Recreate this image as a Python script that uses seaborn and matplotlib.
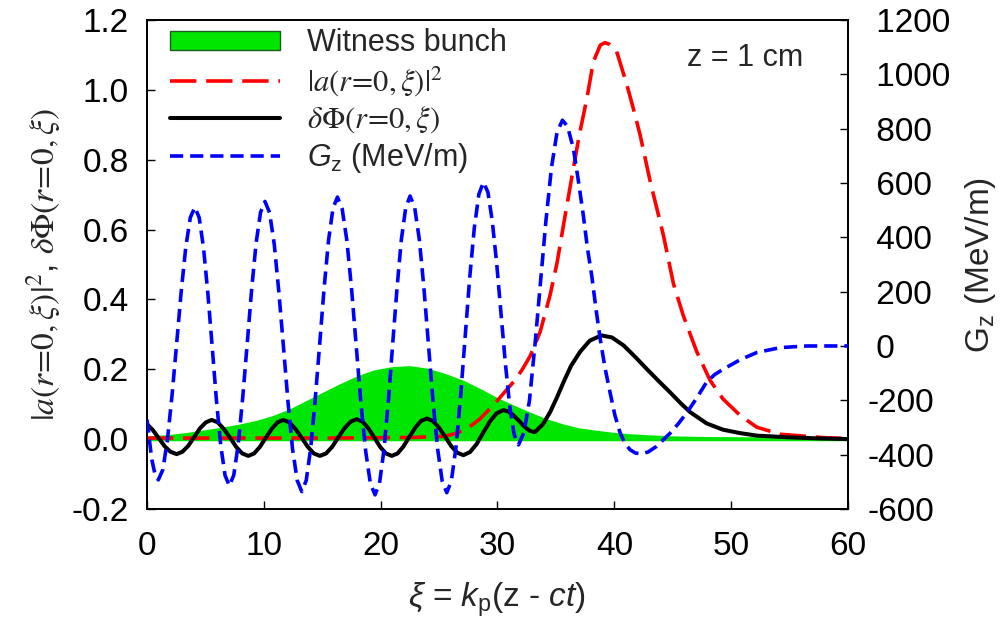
import matplotlib
matplotlib.use("Agg")
import matplotlib.pyplot as plt
from matplotlib.patches import Patch
from matplotlib.lines import Line2D
import pandas as pd
import seaborn as sns

# witness bunch profile (left axis)
xi_bunch = [0, 2, 3.5, 5.1, 6.5, 8.0, 9.5, 10.8, 12.2, 13.7, 15.0, 16.5, 18.0, 19.5,
            21.0, 22.5, 24.0, 25.6, 27.1, 28.5, 29.9, 31.4, 32.8, 34.2, 35.65, 37.0,
            38.5, 40.0, 41.35, 43.0, 45.0, 48.0, 52.0, 56.0, 60.0]
bunch = [0.003, 0.008, 0.014, 0.022, 0.029, 0.038, 0.049, 0.062, 0.080, 0.105, 0.127,
         0.152, 0.175, 0.193, 0.202, 0.205, 0.198, 0.182, 0.163, 0.140, 0.115, 0.092,
         0.072, 0.053, 0.038, 0.027, 0.020, 0.014, 0.010, 0.007, 0.004, 0.002, 0.001,
         0.000, 0.000]

# |a(r=0,xi)|^2 (left axis)
xi_a2 = [0, 5, 10, 15, 20, 23, 25.5, 26.5, 27.5, 28.5, 29.5, 30.5, 31.4, 32.1, 32.8,
         33.65, 34.5, 35.1, 35.65, 36.5, 37.0, 37.65, 38.2, 38.8, 39.2, 39.6, 40.2,
         41.07, 41.6, 42.2, 43.07, 44.2, 45.06, 45.9, 47.06, 48.2, 49.3, 50.8, 52.2,
         54.2, 56.5, 58.0, 60.0]
a2 = [0.003, 0.003, 0.003, 0.003, 0.004, 0.005, 0.008, 0.017, 0.032, 0.058, 0.092,
      0.130, 0.165, 0.198, 0.238, 0.307, 0.412, 0.505, 0.613, 0.776, 0.870, 0.975,
      1.080, 1.128, 1.135, 1.130, 1.110, 1.015, 0.950, 0.872, 0.738, 0.584, 0.445,
      0.354, 0.250, 0.168, 0.115, 0.067, 0.034, 0.014, 0.008, 0.004, 0.002]

# delta Phi(r=0,xi) (left axis)
xi_phi = [0, 0.5, 1.0, 1.5, 2.0, 2.54, 3.04, 3.54, 4.04, 4.54, 5.04, 5.54, 6.06, 6.58,
          7.11, 7.63, 8.15, 8.67, 9.17, 9.67, 10.17, 10.67, 11.17, 11.67, 12.19, 12.71,
          13.24, 13.76, 14.28, 14.8, 15.33, 15.85, 16.38, 16.9, 17.43, 17.95, 18.45,
          18.95, 19.45, 19.95, 20.45, 20.95, 21.45, 21.95, 22.45, 22.95, 23.45, 23.95,
          24.47, 24.99, 25.52, 26.04, 26.56, 27.08, 27.65, 28.22, 28.79, 29.36, 29.93,
          30.5, 30.95, 31.4, 31.85, 32.3, 32.75, 33.2, 33.9, 34.5, 35.1, 35.65, 36.3,
          37.07, 37.9, 38.9, 39.8, 40.8, 41.8, 42.8, 43.8, 44.8, 45.7, 46.5, 47.9,
          49.3, 50.8, 52.2, 55.0, 57.5, 60.0]
phi = [0.043, 0.026, 0.003, -0.020, -0.036, -0.043, -0.036, -0.019, 0.006, 0.031,
       0.048, 0.055, 0.048, 0.029, 0.004, -0.022, -0.041, -0.048, -0.041, -0.022,
       0.004, 0.029, 0.048, 0.055, 0.048, 0.029, 0.004, -0.022, -0.041, -0.048,
       -0.041, -0.022, 0.005, 0.031, 0.050, 0.057, 0.050, 0.031, 0.005, -0.022,
       -0.041, -0.048, -0.041, -0.021, 0.006, 0.032, 0.052, 0.059, 0.052, 0.033,
       0.007, -0.020, -0.039, -0.046, -0.037, -0.014, 0.019, 0.051, 0.074, 0.083,
       0.079, 0.067, 0.052, 0.036, 0.024, 0.020, 0.043, 0.077, 0.120, 0.163, 0.210,
       0.250, 0.282, 0.297, 0.291, 0.268, 0.235, 0.200, 0.166, 0.133, 0.102, 0.077,
       0.045, 0.027, 0.017, 0.010, 0.005, 0.002, 0.000]

# G_z in MeV/m (right axis)
xi_gz = [0, 0.4, 0.7, 0.97, 1.36, 1.75, 2.14, 2.54, 2.93, 3.32, 3.71, 4.10, 4.47, 4.84,
         5.21, 5.58, 5.94, 6.31, 6.68, 7.05, 7.43, 7.81, 8.19, 8.58, 8.96, 9.34, 9.72,
         10.10, 10.49, 10.89, 11.28, 11.68, 12.07, 12.46, 12.86, 13.25, 13.63, 14.01,
         14.39, 14.78, 15.16, 15.54, 15.92, 16.30, 16.70, 17.11, 17.51, 17.91, 18.31,
         18.72, 19.12, 19.52, 19.90, 20.27, 20.65, 21.02, 21.40, 21.77, 22.15, 22.52,
         22.91, 23.31, 23.70, 24.09, 24.48, 24.88, 25.27, 25.66, 26.05, 26.45, 26.84,
         27.23, 27.62, 28.02, 28.41, 28.80, 29.18, 29.55, 29.93, 30.30, 30.68, 31.05,
         31.43, 31.80, 32.27, 32.74, 33.21, 33.68, 34.15, 34.62, 35.09, 35.56, 36.0,
         36.5, 36.9, 37.35, 37.7, 38.07, 38.45, 38.8, 39.2, 39.64, 40.05, 40.5, 40.9,
         41.35, 41.8, 42.35, 42.9, 43.6, 44.8, 45.5, 46.2, 47.0, 47.9, 48.6, 49.3,
         50.8, 52.2, 54.2, 56.5, 58.0, 60.0]
gz = [-271, -415, -475, -493, -455, -346, -183, 9, 201, 364, 473, 511, 472, 361, 194,
      -2, -198, -365, -476, -515, -475, -362, -192, 9, 209, 379, 492, 532, 491, 376,
      202, -2, -206, -380, -495, -536, -495, -377, -201, 6, 213, 389, 507, 548, 506,
      388, 210, 0, -210, -388, -506, -548, -506, -387, -208, 2, 212, 391, 510, 552,
      510, 392, 215, 6, -203, -380, -498, -540, -497, -373, -187, 32, 250, 436, 559,
      603, 566, 461, 305, 120, -66, -222, -327, -364, -318, -200, 5, 234, 462, 656,
      785, 831, 808, 726, 615, 480, 360, 258, 130, 24, -80, -172, -255, -320, -358,
      -382, -394, -397, -390, -370, -320, -285, -246, -195, -133, -105, -86, -50, -24,
      -6, 0, 0, 0]

left_ticks = [-0.2, 0.0, 0.2, 0.4, 0.6, 0.8, 1.0, 1.2]
right_ticks = [-600, -400, -200, 0, 200, 400, 600, 800, 1000, 1200]
x_ticks = [0, 10, 20, 30, 40, 50, 60]

sns.set_theme(style="white")
plt.rcParams["font.family"] = ["Liberation Sans", "DejaVu Sans"]
plt.rcParams["mathtext.fontset"] = "custom"
plt.rcParams["mathtext.rm"] = "Liberation Sans"
plt.rcParams["mathtext.it"] = "Liberation Sans:italic"
plt.rcParams["axes.unicode_minus"] = False
plt.rcParams["lines.scale_dashes"] = False

GREEN = "#00e600"
fs_tick = 24
fs_text = 22
LW_RED, LW_BLACK, LW_BLUE = 2.6, 2.9, 2.6
DASH_RED = (0, (19, 7))
DASH_BLUE = (0, (9.5, 5))

fig = plt.figure(figsize=(10.04, 6.34), dpi=100)
ax = fig.add_axes([0.1464, 0.1972, 0.6982, 0.7713])
ax2 = ax.twinx()

df_b = pd.DataFrame({"xi": xi_bunch, "v": bunch})
ax.fill_between(df_b["xi"], 0, df_b["v"], color=GREEN, lw=0, zorder=1)
ax.plot(df_b["xi"], df_b["v"], color=GREEN, lw=2, zorder=1)
ax.plot([0, 60], [0, 0], color=GREEN, lw=2.5, zorder=1)

sns.lineplot(x=xi_a2, y=a2, ax=ax, color="#ff0000", lw=LW_RED,
             linestyle=DASH_RED, errorbar=None, zorder=3)
sns.lineplot(x=xi_phi, y=phi, ax=ax, color="black", lw=LW_BLACK, errorbar=None, zorder=4)
sns.lineplot(x=xi_gz, y=gz, ax=ax2, color="#0000ff", lw=LW_BLUE,
             linestyle=DASH_BLUE, errorbar=None, zorder=5)

ax.set_xlim(0, 60)
ax.set_ylim(-0.2, 1.2)
ax2.set_ylim(-600, 1200)
ax.set_xticks(x_ticks)
ax.set_yticks(left_ticks)
ax.set_yticklabels([f"{t:.1f}" for t in left_ticks])
ax2.set_yticks(right_ticks)
# non-negative labels are indented by the width of the minus sign, as in the original
ax2.set_yticklabels([str(t) if t < 0 else " " + str(t) for t in right_ticks])

ax.tick_params(axis="x", direction="in", length=6, width=1, labelsize=fs_tick,
               pad=16, colors="black", bottom=True)
ax.tick_params(axis="y", direction="in", length=6, width=1, labelsize=fs_tick,
               pad=13, colors="black", left=True)
ax2.tick_params(axis="y", direction="in", length=6, width=1, labelsize=fs_tick,
                pad=14, colors="black", right=True)
for a in (ax, ax2):
    for s in a.spines.values():
        s.set_color("black")
        s.set_linewidth(1.3)

ax.set_xlabel(r"$\xi$ = $k_{\rm p}$(z - $ct$)", fontsize=fs_tick, labelpad=13)
ylab = ax.set_ylabel(r"$|a(r\!=\!0,\xi)|^2$, $\delta\Phi(r\!=\!0,\xi)$",
                     fontsize=fs_tick, labelpad=6)
ylab.set_math_fontfamily("stix")
ax2.set_ylabel(r"G$_{\rm z}$ (MeV/m)", fontsize=fs_tick, labelpad=9)

ax.text(0.77, 0.922, "z = 1 cm", transform=ax.transAxes, fontsize=fs_text,
        ha="left", va="center")

handles = [
    Patch(facecolor=GREEN, edgecolor="#1d5a1d", lw=1),
    Line2D([], [], color="#ff0000", lw=LW_RED, linestyle=DASH_RED),
    Line2D([], [], color="black", lw=LW_BLACK),
    Line2D([], [], color="#0000ff", lw=LW_BLUE, linestyle=DASH_BLUE),
]
labels = ["Witness bunch", r"$|a(r\!=\!0,\xi)|^2$", r"$\delta\Phi(r\!=\!0,\xi)$",
          r"$G_{\rm z}$ (MeV/m)"]
leg = ax2.legend(handles, labels, loc="upper left", frameon=False, fontsize=fs_text,
                 handlelength=3.6, handleheight=0.6, handletextpad=0.9,
                 labelspacing=0.2, borderaxespad=0.35, bbox_to_anchor=(0.0, 1.03))
for t in leg.get_texts()[1:3]:
    t.set_math_fontfamily("stix")

fig.savefig("out.png", dpi=100)
